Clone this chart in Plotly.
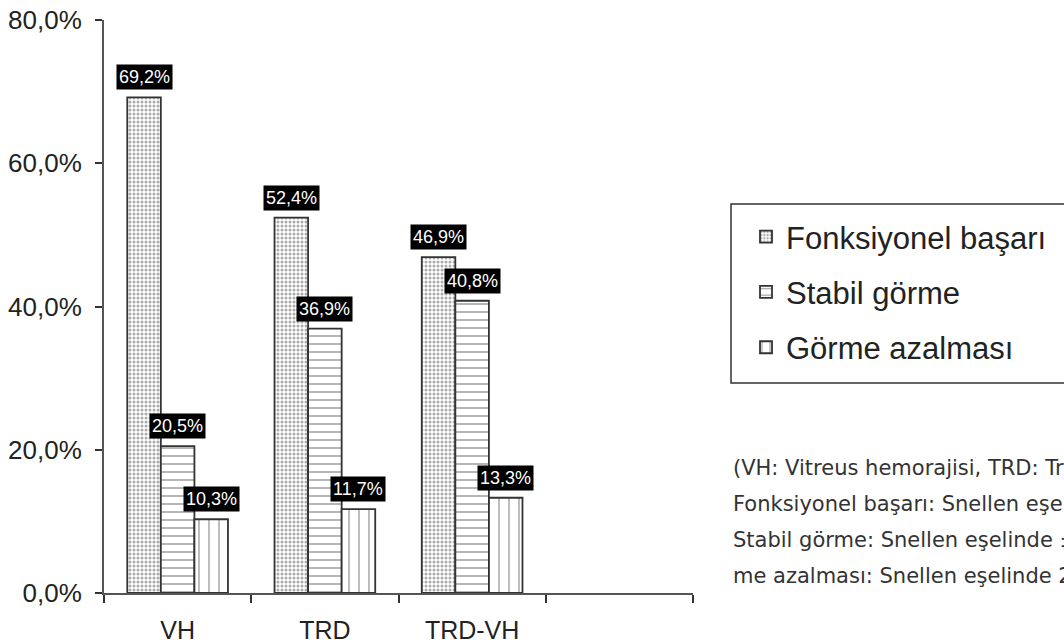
import plotly.graph_objects as go

categories = ["VH", "TRD", "TRD-VH", " "]
series_names = ["Fonksiyonel başarı", "Stabil görme", "Görme azalması"]
fonksiyonel = [69.2, 52.4, 46.9, None]
stabil = [20.5, 36.9, 40.8, None]
azalma = [10.3, 11.7, 13.3, None]
y_ticks = [0, 20, 40, 60, 80]
y_ticktext = ["0,0%", "20,0%", "40,0%", "60,0%", "80,0%"]
footnote_lines = [
    "(VH: Vitreus hemorajisi, TRD: Traksiyonel retina dekolmanı,",
    "Fonksiyonel başarı: Snellen eşelinde ≥2 sıra artış,",
    "Stabil görme: Snellen eşelinde ±1 sıra değişim, Gör-",
    "me azalması: Snellen eşelinde 2 sıra ve üzeri azalma)",
]

W, H = 1064, 643
ML, MR, MT, MB = 104, 371, 20, 50
PW, PH = W - ML - MR, H - MT - MB


def px_x(p):
    return (p - ML) / PW


def px_y(p):
    return (H - MB - p) / PH


values = [fonksiyonel, stabil, azalma]
patterns = [
    dict(shape=".", size=4, solidity=0.45, fgcolor="#555555", bgcolor="white"),
    dict(shape="-", size=8, solidity=0.18, fgcolor="#333333", bgcolor="white"),
    dict(shape="|", size=10, solidity=0.14, fgcolor="#444444", bgcolor="white"),
]

bargap = 0.316
fig = go.Figure()
for i, (name, vals, pat) in enumerate(zip(series_names, values, patterns)):
    fig.add_trace(go.Bar(
        x=categories, y=vals, name=name,
        marker=dict(color="white", pattern=pat, line=dict(color="#333333", width=1.8)),
        legendgroup=f"g{i}",
    ))

w = (1 - bargap) / 3
annotations = []
for j, vals in enumerate(values):
    for i, v in enumerate(vals):
        if v is None:
            continue
        annotations.append(dict(
            x=i + (j - 1) * w, y=v, xref="x", yref="y",
            text=f"{v:.1f}".replace(".", ",") + "%",
            showarrow=False, yanchor="bottom", yshift=7,
            bgcolor="black", borderpad=2,
            font=dict(family="Liberation Sans, Arial", size=18, color="white"),
        ))

for k, line in enumerate(footnote_lines):
    annotations.append(dict(
        x=px_x(731), y=px_y(468 + 36 * k), xref="paper", yref="paper",
        text=line, showarrow=False, xanchor="left", yanchor="middle",
        font=dict(family="DejaVu Sans", size=21, color="#333333"),
    ))

fig.update_layout(
    width=W, height=H,
    margin=dict(l=ML, r=MR, t=MT, b=MB, autoexpand=False),
    paper_bgcolor="white", plot_bgcolor="white",
    separators=",.",
    barmode="group", bargap=bargap, bargroupgap=0,
    showlegend=True,
    legend=dict(
        x=px_x(746), y=px_y(210), xanchor="left", yanchor="top",
        font=dict(family="Liberation Sans, Arial", size=31, color="#222222"),
        traceorder="grouped", tracegroupgap=12,
        bgcolor="rgba(0,0,0,0)", borderwidth=0,
    ),
    annotations=annotations,
    shapes=[dict(
        type="rect", xref="paper", yref="paper",
        x0=px_x(731), x1=2.0,
        y0=px_y(383), y1=px_y(204),
        line=dict(color="#333333", width=1.5), fillcolor="rgba(0,0,0,0)",
    )],
)
fig.update_xaxes(
    type="category", categoryorder="array", categoryarray=categories,
    range=[-0.5, 3.5], showline=True, linecolor="#555555", linewidth=2,
    ticks="outside", tickson="boundaries", ticklen=8, tickcolor="#333333", tickwidth=1.5,
    ticklabelstandoff=14,
    tickfont=dict(family="Liberation Sans, Arial", size=25, color="#222222"),
    showgrid=False, zeroline=False,
)
fig.update_yaxes(
    range=[0, 80], tickvals=y_ticks, ticktext=y_ticktext,
    showline=True, linecolor="#555555", linewidth=2,
    ticks="outside", ticklen=7, tickcolor="#333333", tickwidth=1.5,
    ticklabelstandoff=8,
    tickfont=dict(family="Liberation Sans, Arial", size=26, color="#222222"),
    showgrid=False, zeroline=False,
)
fig.write_html(
    "out.html",
    config={"displayModeBar": False},
    post_script="document.body.style.margin='0';document.body.style.overflow='hidden';",
)
